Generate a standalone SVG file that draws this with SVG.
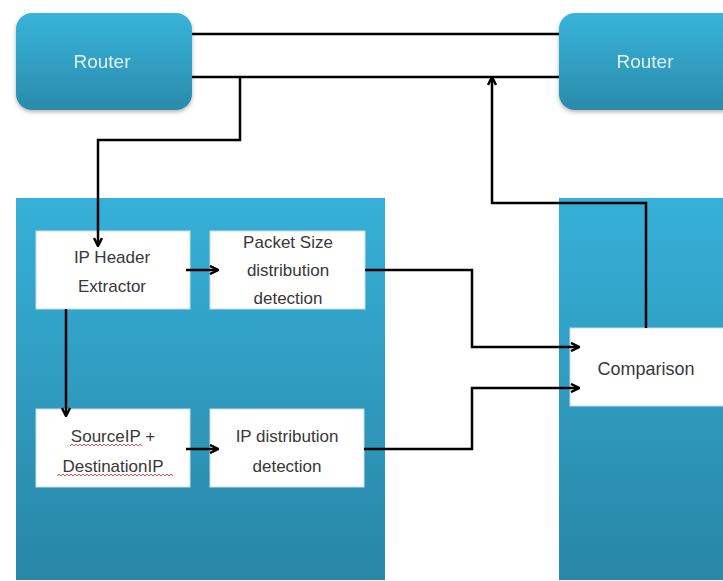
<svg xmlns="http://www.w3.org/2000/svg" width="723" height="581" viewBox="0 0 723 581">
<defs>
<linearGradient id="gRouter" x1="0" y1="0" x2="0" y2="1">
<stop offset="0" stop-color="#38b4da"/><stop offset="1" stop-color="#2a8bab"/>
</linearGradient>
<linearGradient id="gPanel" x1="0" y1="0" x2="0" y2="1">
<stop offset="0" stop-color="#36b0d8"/><stop offset="1" stop-color="#2886a6"/>
</linearGradient>
<filter id="sh" x="-10%" y="-10%" width="120%" height="130%">
<feGaussianBlur in="SourceAlpha" stdDeviation="2"/><feOffset dy="2"/>
<feComponentTransfer><feFuncA type="linear" slope="0.3"/></feComponentTransfer>
<feMerge><feMergeNode/><feMergeNode in="SourceGraphic"/></feMerge>
</filter>
<marker id="ah" markerWidth="10" markerHeight="10" refX="8" refY="5" orient="auto" markerUnits="userSpaceOnUse">
<path d="M1,1 L9,5 L1,9" fill="none" stroke="#000" stroke-width="2.5"/>
</marker>
</defs>
<style>
.router{fill:url(#gRouter)}
.panel{fill:url(#gPanel)}
.box{fill:#fff;stroke:#c8dde6;stroke-width:1}
.rt{font-family:"Liberation Sans",Arial,sans-serif;font-size:19px;fill:#def3f8;text-anchor:middle}
.bt{font-family:"Liberation Sans",Arial,sans-serif;font-size:17px;fill:#383838;text-anchor:middle}
.ln{fill:none;stroke:#000;stroke-width:2.5}
.arr{fill:none;stroke:#000;stroke-width:2.5;marker-end:url(#ah)}
.sq{fill:none;stroke:#d04040;stroke-width:0.9}
</style>
<rect width="723" height="581" fill="#fff"/>
<g id="panel-left"><rect class="panel" x="16" y="198" width="369" height="382"/></g>
<g id="panel-right"><rect class="panel" x="559" y="198" width="170" height="382"/></g>
<g id="router-left" filter="url(#sh)">
<rect class="router" x="16" y="13" width="176" height="97" rx="16"/>
<text class="rt" x="102" y="68">Router</text>
</g>
<g id="router-right" filter="url(#sh)">
<rect class="router" x="559" y="13" width="190" height="97" rx="16"/>
<text class="rt" x="645" y="68">Router</text>
</g>
<g id="ip-header">
<rect class="box" x="36" y="231" width="154" height="78"/>
<text class="bt" x="112" y="263">IP Header</text>
<text class="bt" x="112" y="292">Extractor</text>
</g>
<g id="packet-size">
<rect class="box" x="210" y="231" width="155" height="78"/>
<text class="bt" x="288" y="248">Packet Size</text>
<text class="bt" x="288" y="276">distribution</text>
<text class="bt" x="288" y="304">detection</text>
</g>
<g id="source-dest">
<rect class="box" x="36" y="409" width="154" height="78"/>
<text class="bt" x="113" y="442">SourceIP +</text>
<text class="bt" x="113" y="472">DestinationIP</text>
<path class="sq" d="M70,446 l2,-2 l2,2 l2,-2 l2,2 l2,-2 l2,2 l2,-2 l2,2 l2,-2 l2,2 l2,-2 l2,2 l2,-2 l2,2 l2,-2 l2,2 l2,-2 l2,2 l2,-2 l2,2 l2,-2 l2,2 l2,-2 l2,2 l2,-2 l2,2 l2,-2 l2,2 l2,-2 l2,2 l2,-2 l2,2 l2,-2 l2,2 l2,-2 l2,2"/>
<path class="sq" d="M57,476 l2,-2 l2,2 l2,-2 l2,2 l2,-2 l2,2 l2,-2 l2,2 l2,-2 l2,2 l2,-2 l2,2 l2,-2 l2,2 l2,-2 l2,2 l2,-2 l2,2 l2,-2 l2,2 l2,-2 l2,2 l2,-2 l2,2 l2,-2 l2,2 l2,-2 l2,2 l2,-2 l2,2 l2,-2 l2,2 l2,-2 l2,2 l2,-2 l2,2 l2,-2 l2,2 l2,-2 l2,2 l2,-2 l2,2 l2,-2 l2,2 l2,-2 l2,2 l2,-2 l2,2 l2,-2 l2,2 l2,-2 l2,2 l2,-2 l2,2 l2,-2 l2,2 l2,-2 l2,2"/>
</g>
<g id="ip-dist">
<rect class="box" x="210" y="409" width="154" height="78"/>
<text class="bt" x="287" y="442">IP distribution</text>
<text class="bt" x="287" y="472">detection</text>
</g>
<g id="comparison">
<rect class="box" x="570" y="328" width="160" height="78"/>
<text class="bt" x="646" y="375" style="font-size:18px">Comparison</text>
</g>
<g id="connectors">
<line class="ln" x1="192" y1="34" x2="559" y2="34"/>
<line class="ln" x1="192" y1="77" x2="559" y2="77"/>
<path class="arr" d="M240,77 V140 H98 V245"/>
<path class="arr" d="M186,270 H217"/>
<path class="arr" d="M66,309 V415"/>
<path class="arr" d="M186,449 H217"/>
<path class="arr" d="M365,270 H472 V347 H578"/>
<path class="arr" d="M364,449 H472 V388 H578"/>
<path class="arr" d="M646,328 V203 H492 V78"/>
</g>
</svg>
